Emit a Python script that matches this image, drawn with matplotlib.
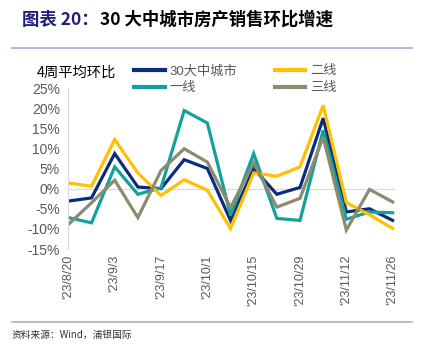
import numpy as np
import matplotlib.pyplot as plt
from matplotlib.lines import Line2D

plt.rcParams['font.family'] = ['Liberation Sans', 'Noto Sans CJK SC']

weeks = ["'23/8/20", "'23/8/27", "'23/9/3", "'23/9/10", "'23/9/17", "'23/9/24",
         "'23/10/1", "'23/10/8", "'23/10/15", "'23/10/22", "'23/10/29", "'23/11/5",
         "'23/11/12", "'23/11/19", "'23/11/26"]

city30 = [-3.1, -2.3, 8.7, 0.4, 0.0, 7.2, 5.0, -7.9, 5.0, -1.4, 0.3, 17.5, -5.8, -5.0, -7.9]
tier1 = [-7.2, -8.5, 5.4, -1.4, 0.2, 19.4, 16.3, -6.6, 8.7, -7.4, -7.9, 14.5, -7.6, -5.8, -6.0]
tier2 = [1.4, 0.6, 12.2, 3.9, -1.7, 2.2, -0.4, -9.9, 3.9, 3.1, 5.4, 20.7, -3.5, -6.5, -9.9]
tier3 = [-8.9, -3.5, 2.1, -7.2, 4.5, 9.9, 6.6, -4.7, 6.4, -4.6, -2.4, 12.8, -10.3, -0.2, -3.3]

names = ['30大中城市', '一线', '二线', '三线']
colors = ['#0B2C7C', '#12A19E', '#FFC000', '#8C8B6F']

fig = plt.figure(figsize=(4.22, 3.53), dpi=100)
ax = fig.add_axes([0.162, 0.2946, 0.774, 0.4561])

x = np.arange(len(weeks))
for vals, name, c in zip([city30, tier1, tier2, tier3], names, colors):
    ax.plot(x, vals, color=c, lw=2.3, label=name, solid_joinstyle='miter')

ax.axhline(0, color='#D9D9D9', lw=0.8, zorder=0)
ax.set_xlim(0, 14.1)
ax.set_ylim(-15, 25)
ax.set_yticks(np.arange(-15, 26, 5))
ax.set_yticklabels([f'{v}%' for v in range(-15, 26, 5)])
ax.set_xticks(x[::2])
ax.set_xticklabels(weeks[::2], rotation=90)
ax.tick_params(axis='both', length=0, colors='#595959', labelsize=10)
ax.tick_params(axis='x', labelsize=9, pad=4)
ax.tick_params(axis='y', pad=6)
for s in ['top', 'right', 'bottom']:
    ax.spines[s].set_visible(False)
ax.spines['left'].set_color('#D9D9D9')
ax.spines['left'].set_linewidth(0.8)

handles = [Line2D([], [], color=c, lw=3) for c in colors]
fig.legend(handles, names, ncol=2, loc='upper left', bbox_to_anchor=(0.29, 0.85),
           frameon=False, fontsize=9.5, handlelength=2.3, columnspacing=2.8,
           labelspacing=0.35, handletextpad=0.4, labelcolor='#595959')

fig.text(37 / 422, 1 - 73 / 353, '4周平均环比', fontsize=10.3, va='center', ha='left',
         family=['Noto Sans CJK SC'])

fig.text(22 / 422, 1 - 20 / 353, '图表 20：', fontsize=12.5, fontweight='bold',
         color='#1F1F78', va='center', family=['Noto Sans CJK SC'])
fig.text(100 / 422, 1 - 20 / 353, '30 大中城市房产销售环比增速', fontsize=12.5,
         fontweight='bold', color='black', va='center', family=['Noto Sans CJK SC'])

fig.add_artist(Line2D([12 / 422, 412 / 422], [1 - 48 / 353] * 2, color='#ABA8CF', lw=1.2))
fig.add_artist(Line2D([12 / 422, 412 / 422], [1 - 322 / 353] * 2, color='#ABA8CF', lw=1.2))

fig.text(12 / 422, 1 - 335 / 353, '资料来源：Wind，浦银国际', fontsize=7, va='center',
         color='#333333', family=['Noto Sans CJK SC'])

fig.savefig('out.png', dpi=100)
